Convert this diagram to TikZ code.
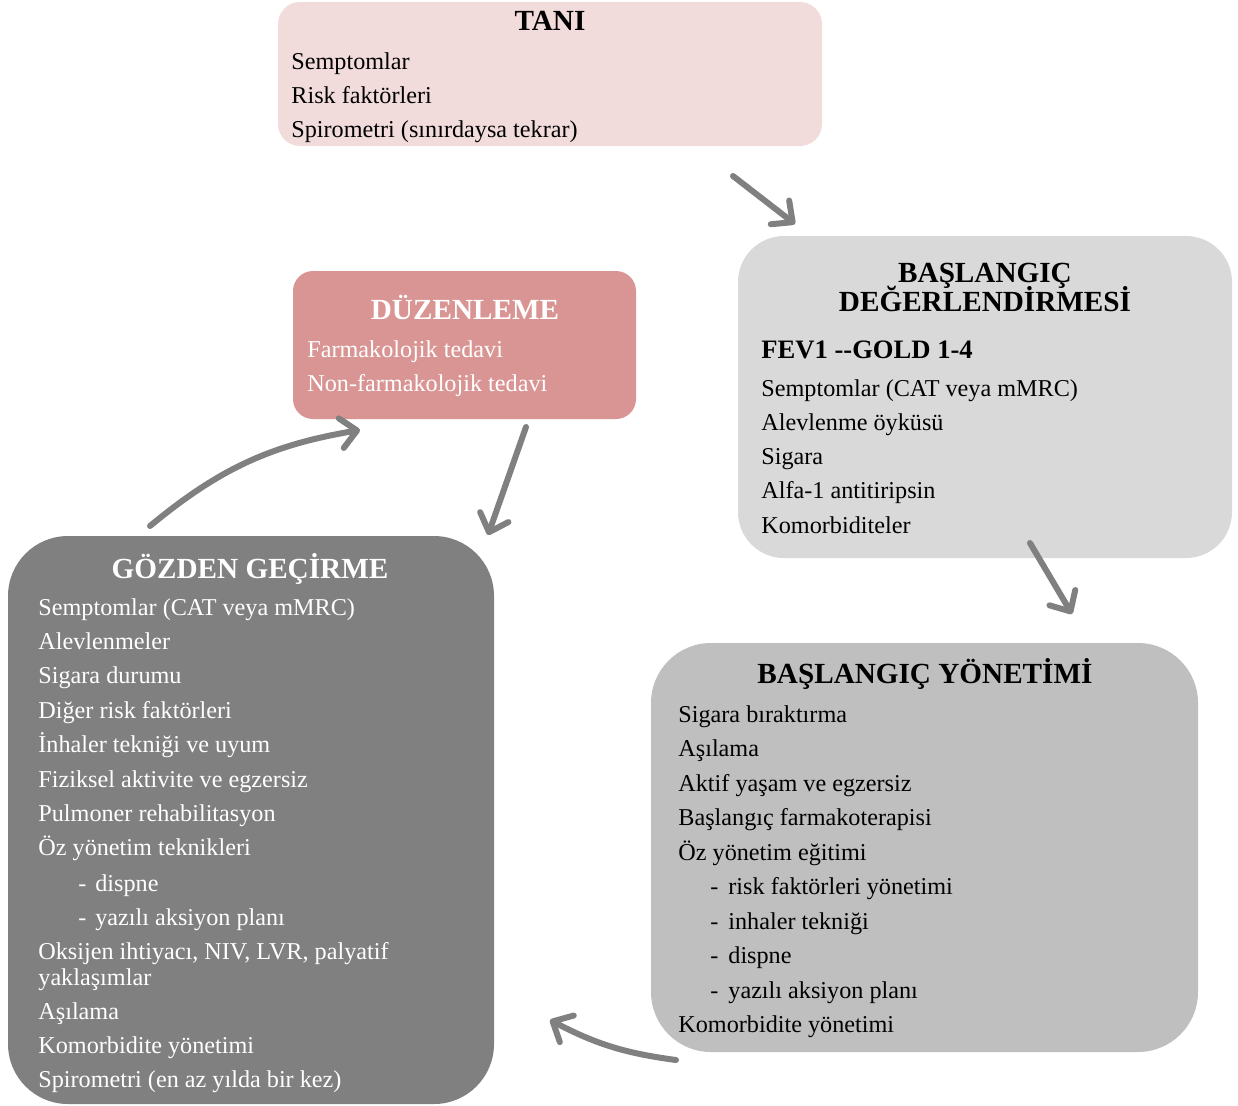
\documentclass[tikz,border=0pt]{standalone}
\usepackage{fontspec}
\setmainfont{Liberation Serif}
\usetikzlibrary{arrows.meta}

\definecolor{taniPink}{HTML}{F2DCDB}
\definecolor{degGray}{HTML}{D9D9D9}
\definecolor{duzRose}{HTML}{D99594}
\definecolor{gozGray}{HTML}{808080}
\definecolor{yonGray}{HTML}{BFBFBF}
\definecolor{arrGray}{HTML}{808080}

\tikzset{
  txt/.style={anchor=base west, inner sep=0pt, font=\fontsize{12.1}{14}\selectfont},
  ttl/.style={anchor=base, inner sep=0pt, font=\fontsize{14.6}{16}\selectfont\bfseries},
  arr/.style={draw=arrGray, line width=3pt, line cap=round,
    -{Straight Barb[length=8pt, width=15pt, round]}}
}

\begin{document}
\begin{tikzpicture}[x=0.5pt, y=-0.5pt]
\useasboundingbox (0,0) rectangle (1238,1105);

    % Kutular
    \fill[taniPink, rounded corners=11pt] (278,2) rectangle (822,146);
    \fill[degGray, rounded corners=23pt] (738,236) rectangle (1232,558);
    \fill[duzRose, rounded corners=10pt] (293,271) rectangle (636,419);
    \fill[gozGray, rounded corners=30pt] (8,536) rectangle (494,1104);
    \fill[yonGray, rounded corners=30pt] (651,643) rectangle (1198,1052);

    % Tanı
    \node[ttl] (taniT) at (550,30) {TANI};
    \foreach \t [count=\i from 0] in {Semptomlar, Risk faktörleri, Spirometri (sınırdaysa tekrar)}
        \node[txt] (tani\i) at (291, 69+34*\i) {\t};

    % Başlangıç değerlendirmesi
    \node[ttl] (degT1) at (985,282) {BAŞLANGIÇ};
    \node[ttl] (degT2) at (985,311) {DEĞERLENDİRMESİ};
    \node[txt, font=\fontsize{13.3}{15}\selectfont\bfseries] (degF) at (761,358) {FEV1 -\kern0pt-GOLD 1-4};
    \foreach \t [count=\i from 0] in {Semptomlar (CAT veya mMRC), Alevlenme öyküsü, Sigara, Alfa-1 antitiripsin, Komorbiditeler}
        \node[txt] (deg\i) at (761, 396+34.3*\i) {\t};

    % Düzenleme
    \node[ttl, text=white] (duzT) at (465,319) {DÜZENLEME};
    \foreach \t [count=\i from 0] in {Farmakolojik tedavi, Non-farmakolojik tedavi}
        \node[txt, text=white] (duz\i) at (307, 357+34*\i) {\t};

    % Gözden geçirme
    \node[ttl, text=white] (gozT) at (250,578) {GÖZDEN GEÇİRME};
    \foreach \t [count=\i from 0] in {Semptomlar (CAT veya mMRC), Alevlenmeler, Sigara durumu,
        Diğer risk faktörleri, İnhaler tekniği ve uyum, Fiziksel aktivite ve egzersiz,
        Pulmoner rehabilitasyon, Öz yönetim teknikleri}
        \node[txt, text=white] (goz\i) at (38, 615+34.4*\i) {\t};
    \foreach \t [count=\i from 0] in {dispne, yazılı aksiyon planı} {
        \node[txt, text=white] (gozd\i) at (78, 891+34.4*\i) {-};
        \node[txt, text=white] (gozs\i) at (95, 891+34.4*\i) {\t};
    }
    \node[txt, text=white] (gozO1) at (38,959) {Oksijen ihtiyacı, NIV, LVR, palyatif};
    \node[txt, text=white] (gozO2) at (38,985) {yaklaşımlar};
    \foreach \t [count=\i from 0] in {Aşılama, Komorbidite yönetimi, Spirometri (en az yılda bir kez)}
        \node[txt, text=white] (gozL\i) at (38, 1019+34.4*\i) {\t};

    % Başlangıç yönetimi
    \node[ttl] (yonT) at (925,683) {BAŞLANGIÇ YÖNETİMİ};
    \foreach \t [count=\i from 0] in {Sigara bıraktırma, Aşılama, Aktif yaşam ve egzersiz,
        Başlangıç farmakoterapisi, Öz yönetim eğitimi}
        \node[txt] (yon\i) at (678, 722+34.5*\i) {\t};
    \foreach \t [count=\i from 0] in {risk faktörleri yönetimi, inhaler tekniği, dispne, yazılı aksiyon planı} {
        \node[txt] (yond\i) at (710, 894.5+34.5*\i) {-};
        \node[txt] (yons\i) at (728, 894.5+34.5*\i) {\t};
    }
    \node[txt] (yonK) at (678,1032.5) {Komorbidite yönetimi};

    % Oklar
    \coordinate (a1s) at (733,176);  \coordinate (a1e) at (795,224);
    \coordinate (a2s) at (1030,543); \coordinate (a2e) at (1072,614);
    \coordinate (a3s) at (676,1060); \coordinate (a3e) at (550,1020);
    \coordinate (a4s) at (150,526);  \coordinate (a4e) at (360,430);
    \coordinate (a5s) at (526,427);  \coordinate (a5e) at (488,535);

    \draw[arr] (a1s) -- (a1e);
    \draw[arr] (a2s) -- (a2e);
    \draw[arr] (a3s) to[bend left=10] (a3e);
    \draw[arr] (a4s) to[bend left=15] (a4e);
    \draw[arr] (a5s) -- (a5e);

\end{tikzpicture}
\end{document}
